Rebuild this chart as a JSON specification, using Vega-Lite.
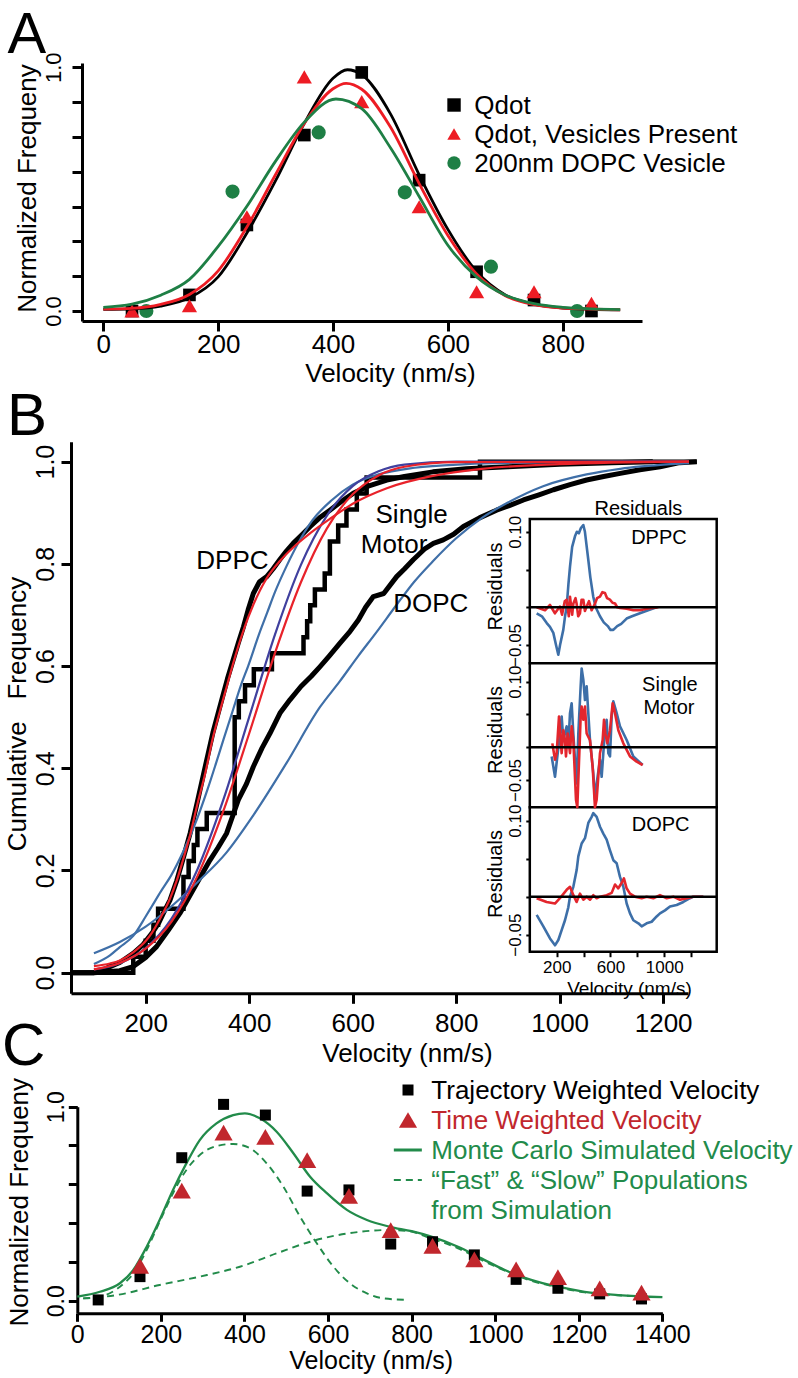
{
"$schema":"https://vega.github.io/schema/vega-lite/v6.json",
"width":798,"height":1378,"autosize":{"type":"none"},"padding":0,"background":"white",
"config":{"view":{"stroke":null},"font":"Liberation Sans"},
"datasets":{
"Apts":[
{"v":50,"f":0.0,"s":"Qdot"},{"v":150,"f":0.066,"s":"Qdot"},{"v":250,"f":0.353,"s":"Qdot"},{"v":350,"f":0.722,"s":"Qdot"},{"v":450,"f":0.979,"s":"Qdot"},{"v":550,"f":0.537,"s":"Qdot"},{"v":650,"f":0.161,"s":"Qdot"},{"v":750,"f":0.045,"s":"Qdot"},{"v":850,"f":0.0,"s":"Qdot"},
{"v":50,"f":0.0,"s":"Ves"},{"v":150,"f":0.022,"s":"Ves"},{"v":250,"f":0.387,"s":"Ves"},{"v":350,"f":0.961,"s":"Ves"},{"v":450,"f":0.859,"s":"Ves"},{"v":550,"f":0.428,"s":"Ves"},{"v":650,"f":0.079,"s":"Ves"},{"v":750,"f":0.079,"s":"Ves"},{"v":850,"f":0.032,"s":"Ves"},
{"v":75,"f":0.0,"s":"DOPC"},{"v":225,"f":0.49,"s":"DOPC"},{"v":375,"f":0.733,"s":"DOPC"},{"v":525,"f":0.487,"s":"DOPC"},{"v":675,"f":0.182,"s":"DOPC"},{"v":825,"f":0.0,"s":"DOPC"}
],
"Afit":[
{"v":0,"f":0.007,"s":"k"},{"v":50,"f":0.009,"s":"k"},{"v":100,"f":0.02,"s":"k"},{"v":150,"f":0.054,"s":"k"},{"v":200,"f":0.14,"s":"k"},{"v":250,"f":0.32,"s":"k"},{"v":300,"f":0.535,"s":"k"},{"v":350,"f":0.77,"s":"k"},{"v":400,"f":0.955,"s":"k"},{"v":425,"f":0.99,"s":"k"},{"v":450,"f":0.97,"s":"k"},{"v":500,"f":0.809,"s":"k"},{"v":550,"f":0.559,"s":"k"},{"v":600,"f":0.335,"s":"k"},{"v":650,"f":0.162,"s":"k"},{"v":700,"f":0.066,"s":"k"},{"v":750,"f":0.028,"s":"k"},{"v":800,"f":0.012,"s":"k"},{"v":850,"f":0.007,"s":"k"},{"v":900,"f":0.005,"s":"k"},
{"v":0,"f":0.008,"s":"r"},{"v":50,"f":0.011,"s":"r"},{"v":100,"f":0.027,"s":"r"},{"v":150,"f":0.068,"s":"r"},{"v":200,"f":0.165,"s":"r"},{"v":250,"f":0.345,"s":"r"},{"v":300,"f":0.56,"s":"r"},{"v":350,"f":0.77,"s":"r"},{"v":400,"f":0.912,"s":"r"},{"v":423,"f":0.934,"s":"r"},{"v":450,"f":0.91,"s":"r"},{"v":500,"f":0.755,"s":"r"},{"v":550,"f":0.523,"s":"r"},{"v":600,"f":0.31,"s":"r"},{"v":650,"f":0.152,"s":"r"},{"v":700,"f":0.063,"s":"r"},{"v":750,"f":0.026,"s":"r"},{"v":800,"f":0.012,"s":"r"},{"v":850,"f":0.008,"s":"r"},{"v":900,"f":0.005,"s":"r"},
{"v":0,"f":0.015,"s":"g"},{"v":50,"f":0.028,"s":"g"},{"v":100,"f":0.065,"s":"g"},{"v":150,"f":0.13,"s":"g"},{"v":200,"f":0.265,"s":"g"},{"v":250,"f":0.43,"s":"g"},{"v":300,"f":0.615,"s":"g"},{"v":350,"f":0.775,"s":"g"},{"v":405,"f":0.87,"s":"g"},{"v":450,"f":0.83,"s":"g"},{"v":500,"f":0.67,"s":"g"},{"v":550,"f":0.47,"s":"g"},{"v":600,"f":0.27,"s":"g"},{"v":650,"f":0.14,"s":"g"},{"v":700,"f":0.065,"s":"g"},{"v":750,"f":0.03,"s":"g"},{"v":800,"f":0.015,"s":"g"},{"v":850,"f":0.009,"s":"g"},{"v":900,"f":0.006,"s":"g"}
],
"Aleg":[{"label":"Qdot"},{"label":"Qdot, Vesicles Present"},{"label":"200nm DOPC Vesicle"}],
"Bemp":[
{"v":55.7,"f":0,"s":"DPPC"},{"v":100,"f":0,"s":"DPPC"},{"v":115,"f":0.004,"s":"DPPC"},{"v":131,"f":0.012,"s":"DPPC"},{"v":150,"f":0.02,"s":"DPPC"},{"v":176,"f":0.038,"s":"DPPC"},{"v":195,"f":0.055,"s":"DPPC"},{"v":212,"f":0.077,"s":"DPPC"},{"v":225,"f":0.097,"s":"DPPC"},{"v":234,"f":0.116,"s":"DPPC"},{"v":247,"f":0.142,"s":"DPPC"},{"v":260,"f":0.18,"s":"DPPC"},{"v":272,"f":0.222,"s":"DPPC"},{"v":286,"f":0.273,"s":"DPPC"},{"v":300,"f":0.335,"s":"DPPC"},{"v":315,"f":0.403,"s":"DPPC"},{"v":330,"f":0.47,"s":"DPPC"},{"v":347,"f":0.534,"s":"DPPC"},{"v":358,"f":0.575,"s":"DPPC"},{"v":369,"f":0.612,"s":"DPPC"},{"v":379,"f":0.645,"s":"DPPC"},{"v":389,"f":0.677,"s":"DPPC"},{"v":398,"f":0.71,"s":"DPPC"},{"v":408,"f":0.742,"s":"DPPC"},{"v":420,"f":0.765,"s":"DPPC"},{"v":434,"f":0.775,"s":"DPPC"},{"v":446,"f":0.79,"s":"DPPC"},{"v":459,"f":0.808,"s":"DPPC"},{"v":472,"f":0.825,"s":"DPPC"},{"v":485,"f":0.84,"s":"DPPC"},{"v":500,"f":0.855,"s":"DPPC"},{"v":518,"f":0.873,"s":"DPPC"},{"v":536,"f":0.89,"s":"DPPC"},{"v":556,"f":0.905,"s":"DPPC"},{"v":578,"f":0.922,"s":"DPPC"},{"v":601,"f":0.938,"s":"DPPC"},{"v":630,"f":0.952,"s":"DPPC"},{"v":666,"f":0.964,"s":"DPPC"},{"v":700,"f":0.971,"s":"DPPC"},{"v":755,"f":0.98,"s":"DPPC"},{"v":820,"f":0.986,"s":"DPPC"},{"v":900,"f":0.99,"s":"DPPC"},{"v":1000,"f":0.995,"s":"DPPC"},{"v":1100,"f":0.998,"s":"DPPC"},{"v":1180,"f":1.0,"s":"DPPC"},
{"v":55.7,"f":0,"s":"DOPC"},{"v":100,"f":0,"s":"DOPC"},{"v":150,"f":0.004,"s":"DOPC"},{"v":176,"f":0.012,"s":"DOPC"},{"v":200,"f":0.03,"s":"DOPC"},{"v":221,"f":0.051,"s":"DOPC"},{"v":245,"f":0.085,"s":"DOPC"},{"v":266,"f":0.116,"s":"DOPC"},{"v":295,"f":0.168,"s":"DOPC"},{"v":324,"f":0.22,"s":"DOPC"},{"v":340,"f":0.245,"s":"DOPC"},{"v":356.5,"f":0.273,"s":"DOPC"},{"v":379,"f":0.338,"s":"DOPC"},{"v":395,"f":0.37,"s":"DOPC"},{"v":408,"f":0.403,"s":"DOPC"},{"v":425,"f":0.44,"s":"DOPC"},{"v":440,"f":0.468,"s":"DOPC"},{"v":459.6,"f":0.508,"s":"DOPC"},{"v":478.8,"f":0.534,"s":"DOPC"},{"v":500,"f":0.56,"s":"DOPC"},{"v":520,"f":0.58,"s":"DOPC"},{"v":537,"f":0.599,"s":"DOPC"},{"v":555,"f":0.62,"s":"DOPC"},{"v":575.5,"f":0.645,"s":"DOPC"},{"v":595,"f":0.668,"s":"DOPC"},{"v":611,"f":0.69,"s":"DOPC"},{"v":625,"f":0.715,"s":"DOPC"},{"v":640,"f":0.736,"s":"DOPC"},{"v":660,"f":0.742,"s":"DOPC"},{"v":685,"f":0.775,"s":"DOPC"},{"v":700,"f":0.79,"s":"DOPC"},{"v":717,"f":0.808,"s":"DOPC"},{"v":740,"f":0.83,"s":"DOPC"},{"v":756,"f":0.84,"s":"DOPC"},{"v":775,"f":0.847,"s":"DOPC"},{"v":795,"f":0.858,"s":"DOPC"},{"v":814,"f":0.873,"s":"DOPC"},{"v":845,"f":0.89,"s":"DOPC"},{"v":878,"f":0.905,"s":"DOPC"},{"v":905,"f":0.915,"s":"DOPC"},{"v":930,"f":0.925,"s":"DOPC"},{"v":960,"f":0.935,"s":"DOPC"},{"v":988,"f":0.945,"s":"DOPC"},{"v":1020,"f":0.955,"s":"DOPC"},{"v":1052,"f":0.964,"s":"DOPC"},{"v":1085,"f":0.971,"s":"DOPC"},{"v":1117,"f":0.977,"s":"DOPC"},{"v":1155,"f":0.984,"s":"DOPC"},{"v":1194,"f":0.99,"s":"DOPC"},{"v":1232,"f":0.998,"s":"DOPC"},{"v":1265,"f":1.0,"s":"DOPC"},
{"v":55.7,"f":0,"s":"SM"},{"v":176,"f":0.03125,"s":"SM"},{"v":200,"f":0.0625,"s":"SM"},{"v":215,"f":0.09375,"s":"SM"},{"v":224,"f":0.125,"s":"SM"},{"v":273,"f":0.1875,"s":"SM"},{"v":283,"f":0.21875,"s":"SM"},{"v":293,"f":0.25,"s":"SM"},{"v":300,"f":0.28125,"s":"SM"},{"v":318,"f":0.3125,"s":"SM"},{"v":372,"f":0.5,"s":"SM"},{"v":380,"f":0.53125,"s":"SM"},{"v":392,"f":0.5625,"s":"SM"},{"v":409,"f":0.59375,"s":"SM"},{"v":444,"f":0.625,"s":"SM"},{"v":505,"f":0.65625,"s":"SM"},{"v":512,"f":0.6875,"s":"SM"},{"v":518,"f":0.71875,"s":"SM"},{"v":527,"f":0.75,"s":"SM"},{"v":546,"f":0.78125,"s":"SM"},{"v":556,"f":0.84375,"s":"SM"},{"v":572,"f":0.875,"s":"SM"},{"v":588,"f":0.90625,"s":"SM"},{"v":608,"f":0.9375,"s":"SM"},{"v":627,"f":0.96875,"s":"SM"},{"v":846,"f":1.0,"s":"SM"},{"v":1265,"f":1.0,"s":"SM"}
],
"Bfit":[
{"v":100,"f":0.038,"s":"Ob"},{"v":150,"f":0.06,"s":"Ob"},{"v":200,"f":0.09,"s":"Ob"},{"v":250,"f":0.13,"s":"Ob"},{"v":299,"f":0.176,"s":"Ob"},{"v":356,"f":0.235,"s":"Ob"},{"v":408,"f":0.308,"s":"Ob"},{"v":472,"f":0.41,"s":"Ob"},{"v":537,"f":0.52,"s":"Ob"},{"v":575,"f":0.57,"s":"Ob"},{"v":611,"f":0.62,"s":"Ob"},{"v":645,"f":0.665,"s":"Ob"},{"v":685,"f":0.72,"s":"Ob"},{"v":719,"f":0.765,"s":"Ob"},{"v":755,"f":0.805,"s":"Ob"},{"v":800,"f":0.85,"s":"Ob"},{"v":850,"f":0.89,"s":"Ob"},{"v":900,"f":0.92,"s":"Ob"},{"v":968,"f":0.952,"s":"Ob"},{"v":1052,"f":0.975,"s":"Ob"},{"v":1117,"f":0.986,"s":"Ob"},{"v":1216,"f":0.995,"s":"Ob"},{"v":1250,"f":0.997,"s":"Ob"},
{"v":100,"f":0.017,"s":"Db"},{"v":131,"f":0.034,"s":"Db"},{"v":150,"f":0.05,"s":"Db"},{"v":176,"f":0.072,"s":"Db"},{"v":200,"f":0.11,"s":"Db"},{"v":212,"f":0.13,"s":"Db"},{"v":230,"f":0.16,"s":"Db"},{"v":249,"f":0.19,"s":"Db"},{"v":274,"f":0.24,"s":"Db"},{"v":299,"f":0.3,"s":"Db"},{"v":320,"f":0.36,"s":"Db"},{"v":336,"f":0.41,"s":"Db"},{"v":350,"f":0.455,"s":"Db"},{"v":369,"f":0.515,"s":"Db"},{"v":385,"f":0.565,"s":"Db"},{"v":398,"f":0.6,"s":"Db"},{"v":420,"f":0.665,"s":"Db"},{"v":435,"f":0.705,"s":"Db"},{"v":450,"f":0.745,"s":"Db"},{"v":472,"f":0.795,"s":"Db"},{"v":500,"f":0.85,"s":"Db"},{"v":522,"f":0.885,"s":"Db"},{"v":560,"f":0.925,"s":"Db"},{"v":600,"f":0.955,"s":"Db"},{"v":650,"f":0.975,"s":"Db"},{"v":720,"f":0.988,"s":"Db"},{"v":819,"f":0.995,"s":"Db"},{"v":943,"f":0.998,"s":"Db"},{"v":1100,"f":1.0,"s":"Db"},{"v":1250,"f":1.0,"s":"Db"},
{"v":100,"f":0.0062,"s":"Sb"},{"v":150,"f":0.0186,"s":"Sb"},{"v":200,"f":0.048,"s":"Sb"},{"v":250,"f":0.106,"s":"Sb"},{"v":300,"f":0.202,"s":"Sb"},{"v":350,"f":0.338,"s":"Sb"},{"v":400,"f":0.5,"s":"Sb"},{"v":450,"f":0.662,"s":"Sb"},{"v":500,"f":0.798,"s":"Sb"},{"v":550,"f":0.894,"s":"Sb"},{"v":600,"f":0.952,"s":"Sb"},{"v":650,"f":0.981,"s":"Sb"},{"v":700,"f":0.994,"s":"Sb"},{"v":800,"f":1.0,"s":"Sb"},{"v":1250,"f":1.0,"s":"Sb"},
{"v":100,"f":0.0066,"s":"Sr"},{"v":150,"f":0.019,"s":"Sr"},{"v":200,"f":0.047,"s":"Sr"},{"v":250,"f":0.1,"s":"Sr"},{"v":300,"f":0.189,"s":"Sr"},{"v":350,"f":0.316,"s":"Sr"},{"v":400,"f":0.468,"s":"Sr"},{"v":450,"f":0.626,"s":"Sr"},{"v":500,"f":0.764,"s":"Sr"},{"v":550,"f":0.869,"s":"Sr"},{"v":600,"f":0.936,"s":"Sr"},{"v":650,"f":0.973,"s":"Sr"},{"v":700,"f":0.99,"s":"Sr"},{"v":800,"f":0.999,"s":"Sr"},{"v":1250,"f":1.0,"s":"Sr"},
{"v":100,"f":0.013,"s":"Dr"},{"v":131,"f":0.018,"s":"Dr"},{"v":150,"f":0.024,"s":"Dr"},{"v":176,"f":0.04,"s":"Dr"},{"v":200,"f":0.062,"s":"Dr"},{"v":212,"f":0.078,"s":"Dr"},{"v":230,"f":0.11,"s":"Dr"},{"v":247,"f":0.145,"s":"Dr"},{"v":260,"f":0.18,"s":"Dr"},{"v":272,"f":0.22,"s":"Dr"},{"v":286,"f":0.27,"s":"Dr"},{"v":300,"f":0.33,"s":"Dr"},{"v":315,"f":0.39,"s":"Dr"},{"v":330,"f":0.46,"s":"Dr"},{"v":347,"f":0.525,"s":"Dr"},{"v":358,"f":0.565,"s":"Dr"},{"v":369,"f":0.605,"s":"Dr"},{"v":389,"f":0.67,"s":"Dr"},{"v":408,"f":0.72,"s":"Dr"},{"v":434,"f":0.772,"s":"Dr"},{"v":459,"f":0.805,"s":"Dr"},{"v":485,"f":0.832,"s":"Dr"},{"v":518,"f":0.86,"s":"Dr"},{"v":556,"f":0.888,"s":"Dr"},{"v":601,"f":0.918,"s":"Dr"},{"v":666,"f":0.948,"s":"Dr"},{"v":755,"f":0.972,"s":"Dr"},{"v":850,"f":0.986,"s":"Dr"},{"v":1000,"f":0.995,"s":"Dr"},{"v":1100,"f":0.998,"s":"Dr"},{"v":1250,"f":1.0,"s":"Dr"}
],
"Bann":[{"t":"DPPC","v":367.7,"f":0.8076},{"t":"Single","v":714,"f":0.899},{"t":"Motor","v":680,"f":0.84},{"t":"DOPC","v":751,"f":0.723}],
"Res":[
{"v":51,"f":-0.008,"s":"Db"},{"v":90,"f":-0.012,"s":"Db"},{"v":126,"f":-0.021,"s":"Db"},{"v":150,"f":-0.026,"s":"Db"},{"v":175,"f":-0.034,"s":"Db"},{"v":195,"f":-0.05,"s":"Db"},{"v":212,"f":-0.063,"s":"Db"},{"v":225,"f":-0.05,"s":"Db"},{"v":249,"f":-0.03,"s":"Db"},{"v":262,"f":-0.012,"s":"Db"},{"v":274,"f":0,"s":"Db"},{"v":287,"f":0.03,"s":"Db"},{"v":299,"f":0.054,"s":"Db"},{"v":315,"f":0.08,"s":"Db"},{"v":336,"f":0.094,"s":"Db"},{"v":350,"f":0.1,"s":"Db"},{"v":365,"f":0.098,"s":"Db"},{"v":380,"f":0.105,"s":"Db"},{"v":398,"f":0.109,"s":"Db"},{"v":410,"f":0.1,"s":"Db"},{"v":420,"f":0.085,"s":"Db"},{"v":435,"f":0.063,"s":"Db"},{"v":450,"f":0.04,"s":"Db"},{"v":472,"f":0.014,"s":"Db"},{"v":490,"f":0.0,"s":"Db"},{"v":522,"f":-0.012,"s":"Db"},{"v":550,"f":-0.02,"s":"Db"},{"v":580,"f":-0.025,"s":"Db"},{"v":600,"f":-0.03,"s":"Db"},{"v":621,"f":-0.03,"s":"Db"},{"v":650,"f":-0.025,"s":"Db"},{"v":680,"f":-0.022,"s":"Db"},{"v":720,"f":-0.015,"s":"Db"},{"v":760,"f":-0.012,"s":"Db"},{"v":819,"f":-0.008,"s":"Db"},{"v":880,"f":-0.004,"s":"Db"},{"v":943,"f":0,"s":"Db"},
{"v":51,"f":0,"s":"Dr"},{"v":113,"f":-0.004,"s":"Dr"},{"v":150,"f":0.003,"s":"Dr"},{"v":187,"f":-0.008,"s":"Dr"},{"v":224,"f":0.001,"s":"Dr"},{"v":240,"f":-0.01,"s":"Dr"},{"v":260,"f":0.008,"s":"Dr"},{"v":274,"f":0.01,"s":"Dr"},{"v":290,"f":-0.012,"s":"Dr"},{"v":299,"f":0.014,"s":"Dr"},{"v":315,"f":-0.01,"s":"Dr"},{"v":324,"f":0.005,"s":"Dr"},{"v":340,"f":0.012,"s":"Dr"},{"v":348,"f":0.005,"s":"Dr"},{"v":360,"f":-0.012,"s":"Dr"},{"v":373,"f":-0.008,"s":"Dr"},{"v":385,"f":0.01,"s":"Dr"},{"v":398,"f":0.01,"s":"Dr"},{"v":410,"f":-0.005,"s":"Dr"},{"v":423,"f":0.001,"s":"Dr"},{"v":440,"f":0.008,"s":"Dr"},{"v":460,"f":-0.004,"s":"Dr"},{"v":485,"f":0.005,"s":"Dr"},{"v":500,"f":0.012,"s":"Dr"},{"v":522,"f":0.014,"s":"Dr"},{"v":540,"f":0.02,"s":"Dr"},{"v":559,"f":0.019,"s":"Dr"},{"v":575,"f":0.012,"s":"Dr"},{"v":596,"f":0.01,"s":"Dr"},{"v":615,"f":0.006,"s":"Dr"},{"v":634,"f":0.005,"s":"Dr"},{"v":650,"f":0.0,"s":"Dr"},{"v":671,"f":-0.001,"s":"Dr"},{"v":720,"f":-0.002,"s":"Dr"},{"v":770,"f":-0.004,"s":"Dr"},{"v":819,"f":-0.004,"s":"Dr"},{"v":869,"f":-0.002,"s":"Dr"},{"v":956,"f":0,"s":"Dr"},
{"v":162.6,"f":-0.014,"s":"Sb"},{"v":187.4,"f":-0.045,"s":"Sb"},{"v":224.5,"f":0.021,"s":"Sb"},{"v":236.9,"f":0.047,"s":"Sb"},{"v":249.3,"f":0.011,"s":"Sb"},{"v":274.1,"f":0.032,"s":"Sb"},{"v":286.5,"f":0.001,"s":"Sb"},{"v":298.9,"f":0.052,"s":"Sb"},{"v":311.3,"f":0.067,"s":"Sb"},{"v":323.7,"f":0.021,"s":"Sb"},{"v":336.1,"f":-0.019,"s":"Sb"},{"v":348.5,"f":-0.055,"s":"Sb"},{"v":360.9,"f":0.021,"s":"Sb"},{"v":378.2,"f":0.093,"s":"Sb"},{"v":385.6,"f":0.12,"s":"Sb"},{"v":398,"f":0.103,"s":"Sb"},{"v":410.4,"f":0.072,"s":"Sb"},{"v":422.8,"f":0.093,"s":"Sb"},{"v":447.6,"f":0.011,"s":"Sb"},{"v":472.4,"f":-0.04,"s":"Sb"},{"v":484.8,"f":-0.08,"s":"Sb"},{"v":497.2,"f":-0.055,"s":"Sb"},{"v":522,"f":-0.019,"s":"Sb"},{"v":534.4,"f":-0.045,"s":"Sb"},{"v":546.8,"f":-0.009,"s":"Sb"},{"v":559.2,"f":0.026,"s":"Sb"},{"v":571.6,"f":0.042,"s":"Sb"},{"v":584,"f":-0.009,"s":"Sb"},{"v":596.4,"f":-0.014,"s":"Sb"},{"v":608.8,"f":0.047,"s":"Sb"},{"v":621.2,"f":0.07,"s":"Sb"},{"v":646,"f":0.052,"s":"Sb"},{"v":670.8,"f":0.032,"s":"Sb"},{"v":720.4,"f":0.011,"s":"Sb"},{"v":770,"f":-0.014,"s":"Sb"},{"v":839.4,"f":-0.027,"s":"Sb"},
{"v":167.6,"f":0.006,"s":"Sr"},{"v":187.4,"f":-0.019,"s":"Sr"},{"v":199.8,"f":-0.009,"s":"Sr"},{"v":217.2,"f":0.047,"s":"Sr"},{"v":236.9,"f":-0.009,"s":"Sr"},{"v":249.3,"f":0.026,"s":"Sr"},{"v":261.7,"f":0.011,"s":"Sr"},{"v":269.1,"f":-0.014,"s":"Sr"},{"v":281.5,"f":0.021,"s":"Sr"},{"v":298.9,"f":-0.009,"s":"Sr"},{"v":311.3,"f":0.032,"s":"Sr"},{"v":323.7,"f":0.011,"s":"Sr"},{"v":343.5,"f":-0.08,"s":"Sr"},{"v":353.4,"f":-0.13,"s":"Sr"},{"v":368.3,"f":-0.009,"s":"Sr"},{"v":378.2,"f":0.047,"s":"Sr"},{"v":385.6,"f":0.062,"s":"Sr"},{"v":398,"f":0.042,"s":"Sr"},{"v":410.4,"f":0.062,"s":"Sr"},{"v":422.8,"f":0.021,"s":"Sr"},{"v":447.6,"f":0.011,"s":"Sr"},{"v":467.4,"f":-0.03,"s":"Sr"},{"v":484.8,"f":-0.13,"s":"Sr"},{"v":497.2,"f":-0.08,"s":"Sr"},{"v":522,"f":-0.009,"s":"Sr"},{"v":541.9,"f":0.011,"s":"Sr"},{"v":551.8,"f":0.042,"s":"Sr"},{"v":561.7,"f":0.021,"s":"Sr"},{"v":576.6,"f":0.006,"s":"Sr"},{"v":596.4,"f":0.026,"s":"Sr"},{"v":616.2,"f":0.067,"s":"Sr"},{"v":633.6,"f":0.052,"s":"Sr"},{"v":658.4,"f":0.026,"s":"Sr"},{"v":695.6,"f":0.006,"s":"Sr"},{"v":745.2,"f":-0.014,"s":"Sr"},{"v":794.8,"f":-0.022,"s":"Sr"},{"v":839.4,"f":-0.027,"s":"Sr"},
{"v":51,"f":-0.024,"s":"Ob"},{"v":100.6,"f":-0.039,"s":"Ob"},{"v":150.1,"f":-0.055,"s":"Ob"},{"v":187.4,"f":-0.064,"s":"Ob"},{"v":212.2,"f":-0.057,"s":"Ob"},{"v":236.9,"f":-0.044,"s":"Ob"},{"v":261.7,"f":-0.031,"s":"Ob"},{"v":286.5,"f":-0.014,"s":"Ob"},{"v":298.9,"f":0.0,"s":"Ob"},{"v":323.7,"f":0.013,"s":"Ob"},{"v":348.5,"f":0.035,"s":"Ob"},{"v":360.9,"f":0.053,"s":"Ob"},{"v":385.6,"f":0.07,"s":"Ob"},{"v":410.4,"f":0.077,"s":"Ob"},{"v":435.2,"f":0.097,"s":"Ob"},{"v":460,"f":0.105,"s":"Ob"},{"v":472.4,"f":0.11,"s":"Ob"},{"v":497.2,"f":0.105,"s":"Ob"},{"v":522,"f":0.092,"s":"Ob"},{"v":546.8,"f":0.083,"s":"Ob"},{"v":571.6,"f":0.075,"s":"Ob"},{"v":596.4,"f":0.061,"s":"Ob"},{"v":621.2,"f":0.048,"s":"Ob"},{"v":646,"f":0.044,"s":"Ob"},{"v":670.8,"f":0.026,"s":"Ob"},{"v":695.6,"f":0.013,"s":"Ob"},{"v":720.4,"f":-0.009,"s":"Ob"},{"v":745.2,"f":-0.022,"s":"Ob"},{"v":770,"f":-0.031,"s":"Ob"},{"v":807.2,"f":-0.035,"s":"Ob"},{"v":832,"f":-0.039,"s":"Ob"},{"v":869.1,"f":-0.035,"s":"Ob"},{"v":906.3,"f":-0.033,"s":"Ob"},{"v":943.5,"f":-0.026,"s":"Ob"},{"v":968.3,"f":-0.022,"s":"Ob"},{"v":1005.5,"f":-0.018,"s":"Ob"},{"v":1042.6,"f":-0.013,"s":"Ob"},{"v":1092.2,"f":-0.011,"s":"Ob"},{"v":1141.8,"f":-0.007,"s":"Ob"},{"v":1191.3,"f":-0.002,"s":"Ob"},{"v":1216.1,"f":0.0,"s":"Ob"},{"v":1290.5,"f":0.0,"s":"Ob"},
{"v":51,"f":-0.002,"s":"Or"},{"v":125,"f":-0.007,"s":"Or"},{"v":187,"f":-0.009,"s":"Or"},{"v":224,"f":-0.002,"s":"Or"},{"v":274,"f":0.009,"s":"Or"},{"v":299,"f":0.013,"s":"Or"},{"v":324,"f":0.002,"s":"Or"},{"v":348,"f":-0.007,"s":"Or"},{"v":373,"f":0.004,"s":"Or"},{"v":398,"f":-0.004,"s":"Or"},{"v":423,"f":0.0,"s":"Or"},{"v":448,"f":-0.004,"s":"Or"},{"v":472,"f":0.002,"s":"Or"},{"v":497,"f":-0.002,"s":"Or"},{"v":522,"f":0.0,"s":"Or"},{"v":572,"f":0.002,"s":"Or"},{"v":609,"f":0.005,"s":"Or"},{"v":634,"f":0.016,"s":"Or"},{"v":658,"f":0.011,"s":"Or"},{"v":683,"f":0.018,"s":"Or"},{"v":700,"f":0.024,"s":"Or"},{"v":720,"f":0.011,"s":"Or"},{"v":745,"f":0.004,"s":"Or"},{"v":782,"f":0.0,"s":"Or"},{"v":832,"f":-0.002,"s":"Or"},{"v":869,"f":0.0,"s":"Or"},{"v":919,"f":-0.002,"s":"Or"},{"v":968,"f":0.002,"s":"Or"},{"v":1018,"f":-0.002,"s":"Or"},{"v":1067,"f":0.0,"s":"Or"},{"v":1117,"f":-0.004,"s":"Or"},{"v":1167,"f":-0.002,"s":"Or"},{"v":1216,"f":0.0,"s":"Or"},{"v":1290,"f":0.0,"s":"Or"}
],
"Cpts":[
{"v":50,"f":0.004,"s":"traj"},{"v":150,"f":0.124,"s":"traj"},{"v":250,"f":0.737,"s":"traj"},{"v":350,"f":1.012,"s":"traj"},{"v":450,"f":0.957,"s":"traj"},{"v":550,"f":0.565,"s":"traj"},{"v":650,"f":0.571,"s":"traj"},{"v":750,"f":0.292,"s":"traj"},{"v":850,"f":0.304,"s":"traj"},{"v":950,"f":0.236,"s":"traj"},{"v":1050,"f":0.11,"s":"traj"},{"v":1150,"f":0.064,"s":"traj"},{"v":1250,"f":0.035,"s":"traj"},{"v":1350,"f":0.009,"s":"traj"},
{"v":150,"f":0.18,"s":"time"},{"v":250,"f":0.567,"s":"time"},{"v":350,"f":0.866,"s":"time"},{"v":450,"f":0.845,"s":"time"},{"v":550,"f":0.725,"s":"time"},{"v":650,"f":0.54,"s":"time"},{"v":750,"f":0.364,"s":"time"},{"v":850,"f":0.282,"s":"time"},{"v":950,"f":0.213,"s":"time"},{"v":1050,"f":0.162,"s":"time"},{"v":1150,"f":0.121,"s":"time"},{"v":1250,"f":0.064,"s":"time"},{"v":1350,"f":0.041,"s":"time"}
],
"Ccurve":[
{"v":0,"f":0.021,"s":"mc"},{"v":54,"f":0.046,"s":"mc"},{"v":102,"f":0.09,"s":"mc"},{"v":134,"f":0.158,"s":"mc"},{"v":166,"f":0.278,"s":"mc"},{"v":197,"f":0.416,"s":"mc"},{"v":229,"f":0.571,"s":"mc"},{"v":261,"f":0.708,"s":"mc"},{"v":293,"f":0.828,"s":"mc"},{"v":333,"f":0.914,"s":"mc"},{"v":373,"f":0.957,"s":"mc"},{"v":401,"f":0.966,"s":"mc"},{"v":437,"f":0.94,"s":"mc"},{"v":477,"f":0.871,"s":"mc"},{"v":517,"f":0.76,"s":"mc"},{"v":557,"f":0.639,"s":"mc"},{"v":597,"f":0.554,"s":"mc"},{"v":645,"f":0.468,"s":"mc"},{"v":693,"f":0.416,"s":"mc"},{"v":748,"f":0.381,"s":"mc"},{"v":800,"f":0.358,"s":"mc"},{"v":847,"f":0.33,"s":"mc"},{"v":911,"f":0.278,"s":"mc"},{"v":967,"f":0.218,"s":"mc"},{"v":1023,"f":0.158,"s":"mc"},{"v":1086,"f":0.107,"s":"mc"},{"v":1150,"f":0.072,"s":"mc"},{"v":1214,"f":0.046,"s":"mc"},{"v":1294,"f":0.029,"s":"mc"},{"v":1400,"f":0.018,"s":"mc"},
{"v":14,"f":0.012,"s":"fast"},{"v":54,"f":0.021,"s":"fast"},{"v":102,"f":0.072,"s":"fast"},{"v":134,"f":0.141,"s":"fast"},{"v":166,"f":0.261,"s":"fast"},{"v":197,"f":0.407,"s":"fast"},{"v":229,"f":0.554,"s":"fast"},{"v":261,"f":0.674,"s":"fast"},{"v":293,"f":0.751,"s":"fast"},{"v":333,"f":0.797,"s":"fast"},{"v":373,"f":0.808,"s":"fast"},{"v":413,"f":0.786,"s":"fast"},{"v":453,"f":0.708,"s":"fast"},{"v":493,"f":0.588,"s":"fast"},{"v":533,"f":0.433,"s":"fast"},{"v":573,"f":0.296,"s":"fast"},{"v":613,"f":0.175,"s":"fast"},{"v":652,"f":0.09,"s":"fast"},{"v":693,"f":0.038,"s":"fast"},{"v":732,"f":0.012,"s":"fast"},{"v":790,"f":0.004,"s":"fast"},
{"v":14,"f":0.012,"s":"slow"},{"v":94,"f":0.029,"s":"slow"},{"v":197,"f":0.081,"s":"slow"},{"v":293,"f":0.124,"s":"slow"},{"v":389,"f":0.175,"s":"slow"},{"v":477,"f":0.244,"s":"slow"},{"v":557,"f":0.304,"s":"slow"},{"v":661,"f":0.351,"s":"slow"},{"v":741,"f":0.364,"s":"slow"},{"v":790,"f":0.36,"s":"slow"},{"v":847,"f":0.321,"s":"slow"},{"v":911,"f":0.27,"s":"slow"},{"v":967,"f":0.21,"s":"slow"},{"v":1023,"f":0.155,"s":"slow"},{"v":1086,"f":0.103,"s":"slow"},{"v":1150,"f":0.069,"s":"slow"},{"v":1214,"f":0.043,"s":"slow"},{"v":1294,"f":0.028,"s":"slow"},{"v":1400,"f":0.018,"s":"slow"}
],
"Cleg":[{"label":"Trajectory Weighted Velocity"},{"label":"Time Weighted Velocity"},{"label":"Monte Carlo Simulated Velocity"},{"label":"“Fast” & “Slow” Populations"},{"label":"\u00a0from Simulation"}]
},
"layer":[
{"data":{"name":"Apts"},"transform":[{"filter":"datum.s == 'Qdot'"}],"mark":{"type":"point","shape":"square","filled":true,"color":"black","size":160,"opacity":1},
"encoding":{"x":{"field":"v","type":"quantitative","scale":{"domain":[-37.1,938],"range":[82,642],"nice":false,"zero":false},
"axis":{"orient":"bottom","offset":-1057,"values":[0,200,400,600,800],"format":"d","title":"Velocity (nm/s)","grid":false,"tickSize":10,"tickWidth":3,"tickColor":"black","domainColor":"black","domainWidth":3,"labelFontSize":26,"labelColor":"black","labelPadding":21,"labelBaseline":"alphabetic","labelFlush":false,"labelOverlap":false,"titleFontSize":26,"titleFontWeight":"normal","titleColor":"black","titleBaseline":"alphabetic","titleAlign":"center","titleX":390,"titleY":60}},
"y":{"field":"f","type":"quantitative","scale":{"domain":[-0.041,1.0177],"range":[321,63],"nice":false,"zero":false},
"axis":{"orient":"left","offset":-82,"values":[0,0.142857,0.285714,0.428571,0.571429,0.714286,0.857143,1],"labelExpr":"datum.value == 0 ? '0.0' : (datum.value == 1 ? '1.0' : '')","title":"Normalized Frequeny","grid":false,"tickSize":10,"tickWidth":3,"tickColor":"black","domainColor":"black","domainWidth":3,"labelFontSize":22,"labelColor":"black","labelAngle":270,"labelAlign":"center","labelBaseline":"alphabetic","labelPadding":12,"labelFlush":false,"labelOverlap":false,"titleFontSize":26,"titleFontWeight":"normal","titleColor":"black","titleAngle":270,"titleBaseline":"alphabetic","titleAlign":"center","titleX":-47,"titleY":188}}}},
{"data":{"name":"Apts"},"transform":[{"filter":"datum.s == 'Ves'"}],"mark":{"type":"point","shape":"triangle-up","filled":true,"color":"#ed1c24","size":230,"opacity":1},
"encoding":{"x":{"field":"v","type":"quantitative","scale":{"domain":[-37.1,938],"range":[82,642],"nice":false,"zero":false},"axis":null},"y":{"field":"f","type":"quantitative","scale":{"domain":[-0.041,1.0177],"range":[321,63],"nice":false,"zero":false},"axis":null}}},
{"data":{"name":"Apts"},"transform":[{"filter":"datum.s == 'DOPC'"}],"mark":{"type":"point","shape":"circle","filled":true,"color":"#1e7f45","size":200,"opacity":1},
"encoding":{"x":{"field":"v","type":"quantitative","scale":{"domain":[-37.1,938],"range":[82,642],"nice":false,"zero":false},"axis":null},"y":{"field":"f","type":"quantitative","scale":{"domain":[-0.041,1.0177],"range":[321,63],"nice":false,"zero":false},"axis":null}}},
{"data":{"name":"Afit"},"transform":[{"filter":"datum.s == 'k'"}],"mark":{"type":"line","color":"black","strokeWidth":2.8,"interpolate":"monotone"},
"encoding":{"x":{"field":"v","type":"quantitative","scale":{"domain":[-37.1,938],"range":[82,642],"nice":false,"zero":false},"axis":null},"y":{"field":"f","type":"quantitative","scale":{"domain":[-0.041,1.0177],"range":[321,63],"nice":false,"zero":false},"axis":null}}},
{"data":{"name":"Afit"},"transform":[{"filter":"datum.s == 'r'"}],"mark":{"type":"line","color":"#ed1c24","strokeWidth":2.8,"interpolate":"monotone"},
"encoding":{"x":{"field":"v","type":"quantitative","scale":{"domain":[-37.1,938],"range":[82,642],"nice":false,"zero":false},"axis":null},"y":{"field":"f","type":"quantitative","scale":{"domain":[-0.041,1.0177],"range":[321,63],"nice":false,"zero":false},"axis":null}}},
{"data":{"name":"Afit"},"transform":[{"filter":"datum.s == 'g'"}],"mark":{"type":"line","color":"#1e7f45","strokeWidth":2.8,"interpolate":"monotone"},
"encoding":{"x":{"field":"v","type":"quantitative","scale":{"domain":[-37.1,938],"range":[82,642],"nice":false,"zero":false},"axis":null},"y":{"field":"f","type":"quantitative","scale":{"domain":[-0.041,1.0177],"range":[321,63],"nice":false,"zero":false},"axis":null}}},
{"data":{"name":"Aleg"},"mark":{"type":"point","filled":true,"size":180,"opacity":1},
"encoding":{"x":{"datum":610.7,"type":"quantitative","scale":{"domain":[-37.1,938],"range":[82,642],"nice":false,"zero":false},"axis":null},
"y":{"field":"label","type":"nominal","scale":{"type":"point","domain":["Qdot","Qdot, Vesicles Present","200nm DOPC Vesicle"],"range":[105,163],"padding":0},"axis":null},
"shape":{"field":"label","type":"nominal","scale":{"domain":["Qdot","Qdot, Vesicles Present","200nm DOPC Vesicle"],"range":["square","triangle-up","circle"]},"legend":null},
"color":{"field":"label","type":"nominal","scale":{"domain":["Qdot","Qdot, Vesicles Present","200nm DOPC Vesicle"],"range":["black","#ed1c24","#1e7f45"]},"legend":null}}},
{"data":{"name":"Aleg"},"mark":{"type":"text","align":"left","baseline":"alphabetic","dy":9.3,"fontSize":26,"color":"black"},
"encoding":{"x":{"datum":646,"type":"quantitative","scale":{"domain":[-37.1,938],"range":[82,642],"nice":false,"zero":false},"axis":null},
"y":{"field":"label","type":"nominal","scale":{"type":"point","domain":["Qdot","Qdot, Vesicles Present","200nm DOPC Vesicle"],"range":[105,163],"padding":0},"axis":null},
"text":{"field":"label","type":"nominal"}}},
{"data":{"values":[{"t":"A"}]},"mark":{"type":"text","align":"left","baseline":"alphabetic","fontSize":58,"color":"black"},
"encoding":{"x":{"datum":-167,"type":"quantitative","scale":{"domain":[-37.1,938],"range":[82,642],"nice":false,"zero":false},"axis":null},"y":{"datum":1.0587,"type":"quantitative","scale":{"domain":[-0.041,1.0177],"range":[321,63],"nice":false,"zero":false},"axis":null},"text":{"field":"t","type":"nominal"}}},

{"data":{"name":"Bemp"},"transform":[{"filter":"datum.s == 'DPPC'"}],"mark":{"type":"line","color":"black","strokeWidth":5,"strokeJoin":"round"},
"encoding":{"x":{"field":"v","type":"quantitative","scale":{"domain":[55.7,1248],"range":[71,688],"nice":false,"zero":false},
"axis":{"orient":"bottom","offset":-384.7,"values":[200,400,600,800,1000,1200],"format":"d","title":"Velocity (nm/s)","grid":false,"tickSize":10,"tickWidth":3,"tickColor":"black","domainColor":"black","domainWidth":3,"labelFontSize":26,"labelColor":"black","labelPadding":28.5,"labelBaseline":"alphabetic","labelFlush":false,"labelOverlap":false,"titleFontSize":26,"titleFontWeight":"normal","titleColor":"black","titleBaseline":"alphabetic","titleAlign":"center","titleX":407,"titleY":68}},
"y":{"field":"f","type":"quantitative","scale":{"domain":[-0.0403,1.039],"range":[993.3,441.7],"nice":false,"zero":false},
"axis":{"orient":"left","offset":-71,"values":[0,0.2,0.4,0.6,0.8,1],"format":".1f","title":"Cumulative\u00a0\u00a0\u00a0Frequency","grid":false,"tickSize":10,"tickWidth":3,"tickColor":"black","domainColor":"black","domainWidth":3,"labelFontSize":25,"labelColor":"black","labelAngle":270,"labelAlign":"center","labelBaseline":"alphabetic","labelPadding":7.5,"labelFlush":false,"labelOverlap":false,"titleFontSize":26,"titleFontWeight":"normal","titleColor":"black","titleAngle":270,"titleBaseline":"alphabetic","titleAlign":"center","titleX":-46,"titleY":713.5}}}},
{"data":{"name":"Bemp"},"transform":[{"filter":"datum.s == 'DOPC'"}],"mark":{"type":"line","color":"black","strokeWidth":5,"strokeJoin":"round"},
"encoding":{"x":{"field":"v","type":"quantitative","scale":{"domain":[55.7,1248],"range":[71,688],"nice":false,"zero":false},"axis":null},"y":{"field":"f","type":"quantitative","scale":{"domain":[-0.0403,1.039],"range":[993.3,441.7],"nice":false,"zero":false},"axis":null}}},
{"data":{"name":"Bemp"},"transform":[{"filter":"datum.s == 'SM'"}],"mark":{"type":"line","color":"black","strokeWidth":4.5,"interpolate":"step-after"},
"encoding":{"x":{"field":"v","type":"quantitative","scale":{"domain":[55.7,1248],"range":[71,688],"nice":false,"zero":false},"axis":null},"y":{"field":"f","type":"quantitative","scale":{"domain":[-0.0403,1.039],"range":[993.3,441.7],"nice":false,"zero":false},"axis":null}}},
{"data":{"name":"Bfit"},"transform":[{"filter":"datum.s == 'Ob'"}],"mark":{"type":"line","color":"#3f6fa8","strokeWidth":2.2,"interpolate":"monotone"},
"encoding":{"x":{"field":"v","type":"quantitative","scale":{"domain":[55.7,1248],"range":[71,688],"nice":false,"zero":false},"axis":null},"y":{"field":"f","type":"quantitative","scale":{"domain":[-0.0403,1.039],"range":[993.3,441.7],"nice":false,"zero":false},"axis":null}}},
{"data":{"name":"Bfit"},"transform":[{"filter":"datum.s == 'Db'"}],"mark":{"type":"line","color":"#3f6fa8","strokeWidth":2.2,"interpolate":"monotone"},
"encoding":{"x":{"field":"v","type":"quantitative","scale":{"domain":[55.7,1248],"range":[71,688],"nice":false,"zero":false},"axis":null},"y":{"field":"f","type":"quantitative","scale":{"domain":[-0.0403,1.039],"range":[993.3,441.7],"nice":false,"zero":false},"axis":null}}},
{"data":{"name":"Bfit"},"transform":[{"filter":"datum.s == 'Sb'"}],"mark":{"type":"line","color":"#40409e","strokeWidth":2.2,"interpolate":"monotone"},
"encoding":{"x":{"field":"v","type":"quantitative","scale":{"domain":[55.7,1248],"range":[71,688],"nice":false,"zero":false},"axis":null},"y":{"field":"f","type":"quantitative","scale":{"domain":[-0.0403,1.039],"range":[993.3,441.7],"nice":false,"zero":false},"axis":null}}},
{"data":{"name":"Bfit"},"transform":[{"filter":"datum.s == 'Sr'"}],"mark":{"type":"line","color":"#e8222a","strokeWidth":2.2,"interpolate":"monotone"},
"encoding":{"x":{"field":"v","type":"quantitative","scale":{"domain":[55.7,1248],"range":[71,688],"nice":false,"zero":false},"axis":null},"y":{"field":"f","type":"quantitative","scale":{"domain":[-0.0403,1.039],"range":[993.3,441.7],"nice":false,"zero":false},"axis":null}}},
{"data":{"name":"Bfit"},"transform":[{"filter":"datum.s == 'Dr'"}],"mark":{"type":"line","color":"#e8222a","strokeWidth":2.2,"interpolate":"monotone"},
"encoding":{"x":{"field":"v","type":"quantitative","scale":{"domain":[55.7,1248],"range":[71,688],"nice":false,"zero":false},"axis":null},"y":{"field":"f","type":"quantitative","scale":{"domain":[-0.0403,1.039],"range":[993.3,441.7],"nice":false,"zero":false},"axis":null}}},
{"data":{"name":"Bann"},"mark":{"type":"text","align":"center","baseline":"alphabetic","dy":9.3,"fontSize":26,"color":"black"},
"encoding":{"x":{"field":"v","type":"quantitative","scale":{"domain":[55.7,1248],"range":[71,688],"nice":false,"zero":false},"axis":null},"y":{"field":"f","type":"quantitative","scale":{"domain":[-0.0403,1.039],"range":[993.3,441.7],"nice":false,"zero":false},"axis":null},"text":{"field":"t","type":"nominal"}}},
{"data":{"values":[{"t":"B"}]},"mark":{"type":"text","align":"left","baseline":"alphabetic","fontSize":60,"color":"black"},
"encoding":{"x":{"datum":-68,"type":"quantitative","scale":{"domain":[55.7,1248],"range":[71,688],"nice":false,"zero":false},"axis":null},"y":{"datum":1.0523,"type":"quantitative","scale":{"domain":[-0.0403,1.039],"range":[993.3,441.7],"nice":false,"zero":false},"axis":null},"text":{"field":"t","type":"nominal"}}},

{"data":{"values":[{}]},"mark":{"type":"rect","fill":"white","stroke":"black","strokeWidth":2.5},
"encoding":{"x":{"datum":0,"type":"quantitative","scale":{"domain":[0,1390],"range":[529.8,716.7],"nice":false,"zero":false},"axis":null},"x2":{"datum":1390},
"y":{"datum":-0.0743,"type":"quantitative","scale":{"domain":[-0.0743,0.117],"range":[663.3,519],"nice":false,"zero":false},
"axis":{"orient":"left","offset":-529.8,"values":[-0.05,0,0.05,0.1],"labelExpr":"datum.value == 0.1 ? '0.10' : (datum.value == -0.05 ? '\u22120.05' : '')","domain":false,"grid":false,"tickSize":4,"tickWidth":2,"tickColor":"black","labelFontSize":17,"labelColor":"black","labelAngle":270,"labelAlign":"center","labelBaseline":"alphabetic","labelPadding":5,"labelFlush":false,"labelOverlap":false,"title":"Residuals","titleFontSize":20,"titleFontWeight":"normal","titleColor":"black","titleAngle":270,"titleBaseline":"alphabetic","titleAlign":"center","titleX":-28.1,"titleY":586}},"y2":{"datum":0.117}}},
{"data":{"values":[{}]},"mark":{"type":"rect","fill":"white","stroke":"black","strokeWidth":2.5},
"encoding":{"x":{"datum":0,"type":"quantitative","scale":{"domain":[0,1390],"range":[529.8,716.7],"nice":false,"zero":false},"axis":null},"x2":{"datum":1390},
"y":{"datum":-0.0915,"type":"quantitative","scale":{"domain":[-0.0915,0.128],"range":[807.3,663.3],"nice":false,"zero":false,"clamp":true},
"axis":{"orient":"left","offset":-529.8,"values":[-0.05,0,0.05,0.1],"labelExpr":"datum.value == 0.1 ? '0.10' : (datum.value == -0.05 ? '\u22120.05' : '')","domain":false,"grid":false,"tickSize":4,"tickWidth":2,"tickColor":"black","labelFontSize":17,"labelColor":"black","labelAngle":270,"labelAlign":"center","labelBaseline":"alphabetic","labelPadding":5,"labelFlush":false,"labelOverlap":false,"title":"Residuals","titleFontSize":20,"titleFontWeight":"normal","titleColor":"black","titleAngle":270,"titleBaseline":"alphabetic","titleAlign":"center","titleX":-28.1,"titleY":729.5}},"y2":{"datum":0.128}}},
{"data":{"values":[{}]},"mark":{"type":"rect","fill":"white","stroke":"black","strokeWidth":2.5},
"encoding":{"x":{"datum":0,"type":"quantitative","scale":{"domain":[0,1390],"range":[529.8,716.7],"nice":false,"zero":false},
"axis":{"orient":"bottom","offset":-426.3,"values":[200,400,600,800,1000,1200],"labelExpr":"(datum.value == 200 || datum.value == 600 || datum.value == 1000) ? datum.label : ''","format":"d","domain":false,"grid":false,"tickSize":5,"tickWidth":2,"tickColor":"black","labelFontSize":17,"labelColor":"black","labelPadding":16,"labelBaseline":"alphabetic","labelFlush":false,"labelOverlap":false,"title":"Velocity (nm/s)","titleFontSize":19,"titleFontWeight":"normal","titleColor":"black","titleBaseline":"alphabetic","titleAlign":"center","titleX":629,"titleY":42.5}},"x2":{"datum":1390},
"y":{"datum":-0.0724,"type":"quantitative","scale":{"domain":[-0.0724,0.1176],"range":[951.7,807.3],"nice":false,"zero":false},
"axis":{"orient":"left","offset":-529.8,"values":[-0.05,0,0.05,0.1],"labelExpr":"datum.value == 0.1 ? '0.10' : (datum.value == -0.05 ? '\u22120.05' : '')","domain":false,"grid":false,"tickSize":4,"tickWidth":2,"tickColor":"black","labelFontSize":17,"labelColor":"black","labelAngle":270,"labelAlign":"center","labelBaseline":"alphabetic","labelPadding":5,"labelFlush":false,"labelOverlap":false,"title":"Residuals","titleFontSize":20,"titleFontWeight":"normal","titleColor":"black","titleAngle":270,"titleBaseline":"alphabetic","titleAlign":"center","titleX":-28.1,"titleY":873.5}},"y2":{"datum":0.1176}}},
{"data":{"name":"Res"},"transform":[{"filter":"datum.s == 'Db'"}],"mark":{"type":"line","color":"#3d6fa8","strokeWidth":2.6,"strokeJoin":"round"},
"encoding":{"x":{"field":"v","type":"quantitative","scale":{"domain":[0,1390],"range":[529.8,716.7],"nice":false,"zero":false},"axis":null},"y":{"field":"f","type":"quantitative","scale":{"domain":[-0.0743,0.117],"range":[663.3,519],"nice":false,"zero":false},"axis":null}}},
{"data":{"name":"Res"},"transform":[{"filter":"datum.s == 'Dr'"}],"mark":{"type":"line","color":"#e3262d","strokeWidth":2.6,"strokeJoin":"round"},
"encoding":{"x":{"field":"v","type":"quantitative","scale":{"domain":[0,1390],"range":[529.8,716.7],"nice":false,"zero":false},"axis":null},"y":{"field":"f","type":"quantitative","scale":{"domain":[-0.0743,0.117],"range":[663.3,519],"nice":false,"zero":false},"axis":null}}},
{"data":{"name":"Res"},"transform":[{"filter":"datum.s == 'Sb'"}],"mark":{"type":"line","color":"#3d6fa8","strokeWidth":2.6,"strokeJoin":"round"},
"encoding":{"x":{"field":"v","type":"quantitative","scale":{"domain":[0,1390],"range":[529.8,716.7],"nice":false,"zero":false},"axis":null},"y":{"field":"f","type":"quantitative","scale":{"domain":[-0.0915,0.128],"range":[807.3,663.3],"nice":false,"zero":false,"clamp":true},"axis":null}}},
{"data":{"name":"Res"},"transform":[{"filter":"datum.s == 'Sr'"}],"mark":{"type":"line","color":"#e3262d","strokeWidth":2.6,"strokeJoin":"round"},
"encoding":{"x":{"field":"v","type":"quantitative","scale":{"domain":[0,1390],"range":[529.8,716.7],"nice":false,"zero":false},"axis":null},"y":{"field":"f","type":"quantitative","scale":{"domain":[-0.0915,0.128],"range":[807.3,663.3],"nice":false,"zero":false,"clamp":true},"axis":null}}},
{"data":{"name":"Res"},"transform":[{"filter":"datum.s == 'Ob'"}],"mark":{"type":"line","color":"#3d6fa8","strokeWidth":2.6,"strokeJoin":"round"},
"encoding":{"x":{"field":"v","type":"quantitative","scale":{"domain":[0,1390],"range":[529.8,716.7],"nice":false,"zero":false},"axis":null},"y":{"field":"f","type":"quantitative","scale":{"domain":[-0.0724,0.1176],"range":[951.7,807.3],"nice":false,"zero":false},"axis":null}}},
{"data":{"name":"Res"},"transform":[{"filter":"datum.s == 'Or'"}],"mark":{"type":"line","color":"#e3262d","strokeWidth":2.6,"strokeJoin":"round"},
"encoding":{"x":{"field":"v","type":"quantitative","scale":{"domain":[0,1390],"range":[529.8,716.7],"nice":false,"zero":false},"axis":null},"y":{"field":"f","type":"quantitative","scale":{"domain":[-0.0724,0.1176],"range":[951.7,807.3],"nice":false,"zero":false},"axis":null}}},
{"data":{"values":[{}]},"mark":{"type":"rule","color":"black","strokeWidth":2.5},
"encoding":{"x":{"datum":0,"type":"quantitative","scale":{"domain":[0,1390],"range":[529.8,716.7],"nice":false,"zero":false},"axis":null},"x2":{"datum":1390},"y":{"datum":0,"type":"quantitative","scale":{"domain":[-0.0743,0.117],"range":[663.3,519],"nice":false,"zero":false},"axis":null}}},
{"data":{"values":[{}]},"mark":{"type":"rule","color":"black","strokeWidth":2.5},
"encoding":{"x":{"datum":0,"type":"quantitative","scale":{"domain":[0,1390],"range":[529.8,716.7],"nice":false,"zero":false},"axis":null},"x2":{"datum":1390},"y":{"datum":0,"type":"quantitative","scale":{"domain":[-0.0915,0.128],"range":[807.3,663.3],"nice":false,"zero":false},"axis":null}}},
{"data":{"values":[{}]},"mark":{"type":"rule","color":"black","strokeWidth":2.5},
"encoding":{"x":{"datum":0,"type":"quantitative","scale":{"domain":[0,1390],"range":[529.8,716.7],"nice":false,"zero":false},"axis":null},"x2":{"datum":1390},"y":{"datum":0,"type":"quantitative","scale":{"domain":[-0.0724,0.1176],"range":[951.7,807.3],"nice":false,"zero":false},"axis":null}}},
{"data":{"values":[{"t":"DPPC","v":960.6,"f":0.0936},{"t":"Residuals","v":808,"f":0.1316}]},"mark":{"type":"text","align":"center","baseline":"alphabetic","dy":7.2,"fontSize":20,"color":"black"},
"encoding":{"x":{"field":"v","type":"quantitative","scale":{"domain":[0,1390],"range":[529.8,716.7],"nice":false,"zero":false},"axis":null},"y":{"field":"f","type":"quantitative","scale":{"domain":[-0.0743,0.117],"range":[663.3,519],"nice":false,"zero":false},"axis":null},"text":{"field":"t","type":"nominal"}}},
{"data":{"values":[{"t":"Single","v":1042,"f":0.0965},{"t":"Motor","v":1035,"f":0.0614}]},"mark":{"type":"text","align":"center","baseline":"alphabetic","dy":7.2,"fontSize":20,"color":"black"},
"encoding":{"x":{"field":"v","type":"quantitative","scale":{"domain":[0,1390],"range":[529.8,716.7],"nice":false,"zero":false},"axis":null},"y":{"field":"f","type":"quantitative","scale":{"domain":[-0.0915,0.128],"range":[807.3,663.3],"nice":false,"zero":false},"axis":null},"text":{"field":"t","type":"nominal"}}},
{"data":{"values":[{"t":"DOPC","v":973,"f":0.0953}]},"mark":{"type":"text","align":"center","baseline":"alphabetic","dy":7.2,"fontSize":20,"color":"black"},
"encoding":{"x":{"field":"v","type":"quantitative","scale":{"domain":[0,1390],"range":[529.8,716.7],"nice":false,"zero":false},"axis":null},"y":{"field":"f","type":"quantitative","scale":{"domain":[-0.0724,0.1176],"range":[951.7,807.3],"nice":false,"zero":false},"axis":null},"text":{"field":"t","type":"nominal"}}},

{"data":{"name":"Ccurve"},"transform":[{"filter":"datum.s == 'mc'"}],"mark":{"type":"line","color":"#228b4a","strokeWidth":2.3,"interpolate":"monotone"},
"encoding":{"x":{"field":"v","type":"quantitative","scale":{"domain":[0,1400],"range":[77.3,662.4],"nice":false,"zero":false},
"axis":{"orient":"bottom","offset":-64.7,"values":[0,200,400,600,800,1000,1200,1400],"format":"d","title":"Velocity (nm/s)","grid":false,"tickSize":8,"tickWidth":3,"tickColor":"black","domainColor":"black","domainWidth":3,"labelFontSize":25,"labelColor":"black","labelPadding":21,"labelBaseline":"alphabetic","labelFlush":false,"labelOverlap":false,"titleFontSize":25,"titleFontWeight":"normal","titleColor":"black","titleBaseline":"alphabetic","titleAlign":"center","titleX":370.7,"titleY":55}},
"y":{"field":"f","type":"quantitative","scale":{"domain":[-0.065,1.0],"range":[1313.3,1106.7],"nice":false,"zero":false},
"axis":{"orient":"left","offset":-77.3,"values":[0,0.2,0.4,0.6,0.8,1],"labelExpr":"datum.value == 0 ? '0.0' : (datum.value == 1 ? '1.0' : '')","title":"Normalized Frequeny","grid":false,"tickSize":9,"tickWidth":3,"tickColor":"black","domainColor":"black","domainWidth":3,"labelFontSize":23,"labelColor":"black","labelAngle":270,"labelAlign":"center","labelBaseline":"alphabetic","labelPadding":5,"labelFlush":false,"labelOverlap":false,"titleFontSize":26,"titleFontWeight":"normal","titleColor":"black","titleAngle":270,"titleBaseline":"alphabetic","titleAlign":"center","titleX":-49.8,"titleY":1201.7}}}},
{"data":{"name":"Ccurve"},"transform":[{"filter":"datum.s == 'fast'"}],"mark":{"type":"line","color":"#228b4a","strokeWidth":1.9,"strokeDash":[7,5],"interpolate":"monotone"},
"encoding":{"x":{"field":"v","type":"quantitative","scale":{"domain":[0,1400],"range":[77.3,662.4],"nice":false,"zero":false},"axis":null},"y":{"field":"f","type":"quantitative","scale":{"domain":[-0.065,1.0],"range":[1313.3,1106.7],"nice":false,"zero":false},"axis":null}}},
{"data":{"name":"Ccurve"},"transform":[{"filter":"datum.s == 'slow'"}],"mark":{"type":"line","color":"#228b4a","strokeWidth":1.9,"strokeDash":[7,5],"interpolate":"monotone"},
"encoding":{"x":{"field":"v","type":"quantitative","scale":{"domain":[0,1400],"range":[77.3,662.4],"nice":false,"zero":false},"axis":null},"y":{"field":"f","type":"quantitative","scale":{"domain":[-0.065,1.0],"range":[1313.3,1106.7],"nice":false,"zero":false},"axis":null}}},
{"data":{"name":"Cpts"},"transform":[{"filter":"datum.s == 'traj'"}],"mark":{"type":"point","shape":"square","filled":true,"color":"black","size":121,"opacity":1},
"encoding":{"x":{"field":"v","type":"quantitative","scale":{"domain":[0,1400],"range":[77.3,662.4],"nice":false,"zero":false},"axis":null},"y":{"field":"f","type":"quantitative","scale":{"domain":[-0.065,1.0],"range":[1313.3,1106.7],"nice":false,"zero":false},"axis":null}}},
{"data":{"name":"Cpts"},"transform":[{"filter":"datum.s == 'time'"}],"mark":{"type":"point","shape":"triangle-up","filled":true,"color":"#c1272d","size":330,"opacity":1},
"encoding":{"x":{"field":"v","type":"quantitative","scale":{"domain":[0,1400],"range":[77.3,662.4],"nice":false,"zero":false},"axis":null},"y":{"field":"f","type":"quantitative","scale":{"domain":[-0.065,1.0],"range":[1313.3,1106.7],"nice":false,"zero":false},"axis":null}}},
{"data":{"name":"Cleg"},"transform":[{"filter":"datum.label == 'Trajectory Weighted Velocity'"}],"mark":{"type":"point","shape":"square","filled":true,"color":"black","size":121,"opacity":1},
"encoding":{"x":{"datum":791.3,"type":"quantitative","scale":{"domain":[0,1400],"range":[77.3,662.4],"nice":false,"zero":false},"axis":null},
"y":{"field":"label","type":"nominal","scale":{"type":"point","domain":["Trajectory Weighted Velocity","Time Weighted Velocity","Monte Carlo Simulated Velocity","“Fast” & “Slow” Populations","\u00a0from Simulation"],"range":[1090,1210],"padding":0},"axis":null}}},
{"data":{"name":"Cleg"},"transform":[{"filter":"datum.label == 'Time Weighted Velocity'"}],"mark":{"type":"point","shape":"triangle-up","filled":true,"color":"#c1272d","size":330,"opacity":1},
"encoding":{"x":{"datum":791.3,"type":"quantitative","scale":{"domain":[0,1400],"range":[77.3,662.4],"nice":false,"zero":false},"axis":null},
"y":{"field":"label","type":"nominal","scale":{"type":"point","domain":["Trajectory Weighted Velocity","Time Weighted Velocity","Monte Carlo Simulated Velocity","“Fast” & “Slow” Populations","\u00a0from Simulation"],"range":[1090,1210],"padding":0},"axis":null}}},
{"data":{"name":"Cleg"},"transform":[{"filter":"datum.label == 'Monte Carlo Simulated Velocity'"}],"mark":{"type":"rule","color":"#228b4a","strokeWidth":3},
"encoding":{"x":{"datum":757.4,"type":"quantitative","scale":{"domain":[0,1400],"range":[77.3,662.4],"nice":false,"zero":false},"axis":null},"x2":{"datum":824.4},
"y":{"field":"label","type":"nominal","scale":{"type":"point","domain":["Trajectory Weighted Velocity","Time Weighted Velocity","Monte Carlo Simulated Velocity","“Fast” & “Slow” Populations","\u00a0from Simulation"],"range":[1090,1210],"padding":0},"axis":null}}},
{"data":{"name":"Cleg"},"transform":[{"filter":"indexof(datum.label, 'Populations') >= 0"}],"mark":{"type":"rule","color":"#228b4a","strokeWidth":2,"strokeDash":[7,5]},
"encoding":{"x":{"datum":757.4,"type":"quantitative","scale":{"domain":[0,1400],"range":[77.3,662.4],"nice":false,"zero":false},"axis":null},"x2":{"datum":824.4},
"y":{"field":"label","type":"nominal","scale":{"type":"point","domain":["Trajectory Weighted Velocity","Time Weighted Velocity","Monte Carlo Simulated Velocity","“Fast” & “Slow” Populations","\u00a0from Simulation"],"range":[1090,1210],"padding":0},"axis":null}}},
{"data":{"name":"Cleg"},"mark":{"type":"text","align":"left","baseline":"alphabetic","dy":9.3,"fontSize":26},
"encoding":{"x":{"datum":847.1,"type":"quantitative","scale":{"domain":[0,1400],"range":[77.3,662.4],"nice":false,"zero":false},"axis":null},
"y":{"field":"label","type":"nominal","scale":{"type":"point","domain":["Trajectory Weighted Velocity","Time Weighted Velocity","Monte Carlo Simulated Velocity","“Fast” & “Slow” Populations","\u00a0from Simulation"],"range":[1090,1210],"padding":0},"axis":null},
"color":{"field":"label","type":"nominal","scale":{"domain":["Trajectory Weighted Velocity","Time Weighted Velocity","Monte Carlo Simulated Velocity","“Fast” & “Slow” Populations","\u00a0from Simulation"],"range":["black","#c1272d","#228b4a","#228b4a","#228b4a"]},"legend":null},
"text":{"field":"label","type":"nominal"}}},
{"data":{"values":[{"t":"C"}]},"mark":{"type":"text","align":"left","baseline":"alphabetic","fontSize":60,"color":"black"},
"encoding":{"x":{"datum":-180.2,"type":"quantitative","scale":{"domain":[0,1400],"range":[77.3,662.4],"nice":false,"zero":false},"axis":null},"y":{"datum":1.215,"type":"quantitative","scale":{"domain":[-0.065,1.0],"range":[1313.3,1106.7],"nice":false,"zero":false},"axis":null},"text":{"field":"t","type":"nominal"}}}
],
"resolve":{"scale":{"x":"independent","y":"independent","color":"independent","shape":"independent"},"axis":{"x":"independent","y":"independent"}}
}
